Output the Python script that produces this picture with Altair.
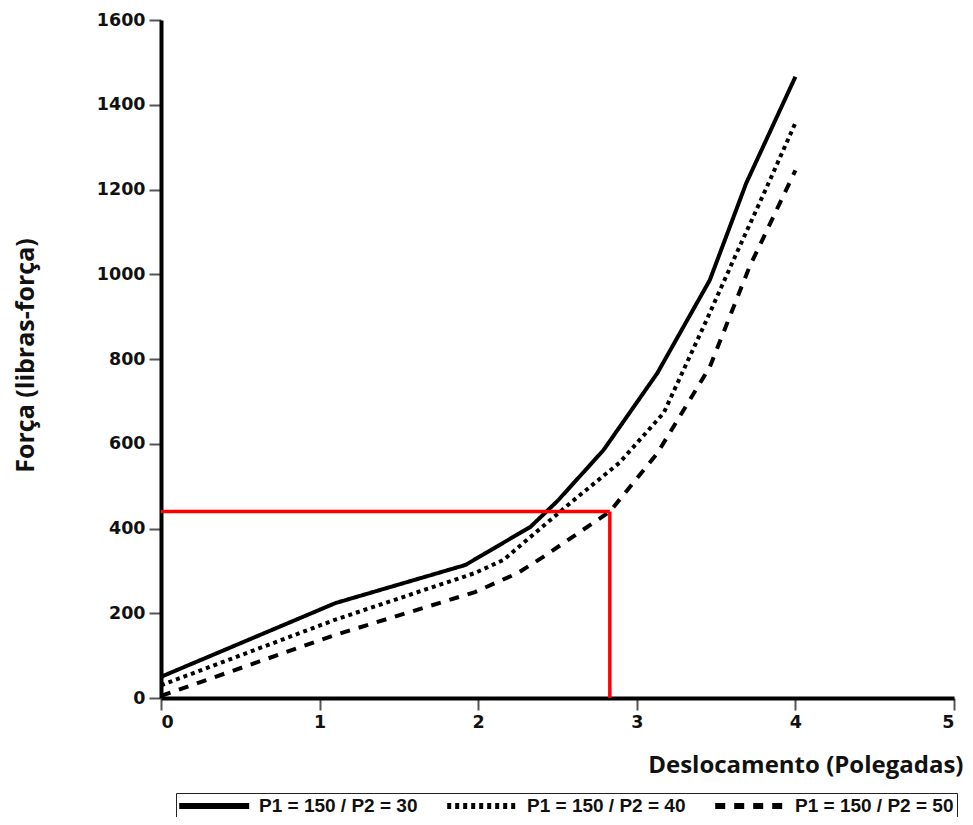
import altair as alt
import pandas as pd

# Series values
series_names = ["P1 = 150 / P2 = 30", "P1 = 150 / P2 = 40", "P1 = 150 / P2 = 50"]
x_30 = [0, 1.1, 1.92, 2.33, 2.5, 2.79, 3.13, 3.46, 3.69, 4.0]
y_30 = [50, 224, 314, 404, 465, 585, 767, 986, 1215, 1466]
x_40 = [0, 1.1, 1.98, 2.16, 2.58, 2.89, 3.17, 3.44, 3.61, 3.82, 4.0]
y_40 = [30, 185, 295, 326, 460, 555, 673, 892, 1034, 1206, 1357]
x_50 = [0, 1.1, 1.98, 2.25, 2.41, 2.83, 3.13, 3.46, 3.71, 4.0]
y_50 = [5, 149, 250, 295, 333, 440, 578, 781, 1017, 1245]

# Red reading guide
red_x = 2.83
red_y = 440

x_ticks = [0, 1, 2, 3, 4, 5]
y_ticks = [0, 200, 400, 600, 800, 1000, 1200, 1400, 1600]

rows = []
for name, xs, ys in zip(series_names, [x_30, x_40, x_50], [y_30, y_40, y_50]):
    for i, (a, b) in enumerate(zip(xs, ys)):
        rows.append({"serie": name, "x": a, "y": b, "ord": i})
df = pd.DataFrame(rows)

red_df = pd.DataFrame({
    "x": [0, red_x], "x2": [red_x, red_x],
    "y": [red_y, 0], "y2": [red_y, red_y],
})

xscale = alt.Scale(domain=[0, 5], nice=False, zero=True)
yscale = alt.Scale(domain=[0, 1600], nice=False)

lines = alt.Chart(df).mark_line(strokeWidth=4, color="black", strokeCap="butt").encode(
    x=alt.X("x:Q", scale=xscale,
            axis=alt.Axis(values=x_ticks, format="d", title="Deslocamento (Polegadas)",
                          titleX=802, titleY=74, titleAlign="right",
                          titleBaseline="alphabetic")),
    y=alt.Y("y:Q", scale=yscale,
            axis=alt.Axis(values=y_ticks, format="d", title="Força (libras-força)",
                          titleX=-128, titleY=335, titleAngle=270,
                          titleAlign="center", titleBaseline="alphabetic")),
    strokeDash=alt.StrokeDash(
        "serie:N",
        scale=alt.Scale(domain=series_names, range=[[1, 0], [4, 4], [10, 9]]),
        legend=alt.Legend(
            title=None, orient="none", legendX=15, legendY=773,
            direction="horizontal", strokeColor="#222", padding=3,
            symbolType="M-1.4,0H8.6", symbolSize=196, symbolStrokeWidth=6,
            symbolStrokeColor="black",
            labelFont="Liberation Sans", labelFontSize=19, labelFontWeight="bold",
            labelColor="#111", labelOffset=60, columnPadding=17,
        ),
    ),
    order="ord:Q",
)

red = alt.Chart(red_df).mark_rule(color="#ff0000", strokeWidth=3.5).encode(
    x="x:Q", x2="x2:Q", y="y:Q", y2="y2:Q"
)

chart = alt.layer(lines, red).properties(
    width=793, height=678,
    autosize=alt.AutoSizeParams(type="none"),
    padding={"left": 153, "top": 12, "right": 11, "bottom": 119},
).configure_view(stroke=None).configure_axis(
    grid=False,
    domainColor="black", domainWidth=4,
    tickColor="#555", tickWidth=2, tickSize=12,
    labelFont="DejaVu Sans", labelFontSize=17.5, labelFontWeight="bold",
    labelColor="#111", labelPadding=4,
    titleFont="Open Sans", titleFontWeight="bold", titleColor="#111",
).configure_axisX(titleFontSize=24, labelPadding=3).configure_axisY(titleFontSize=25)

chart.save("out.html", embed_options={"renderer": "svg", "actions": False})
